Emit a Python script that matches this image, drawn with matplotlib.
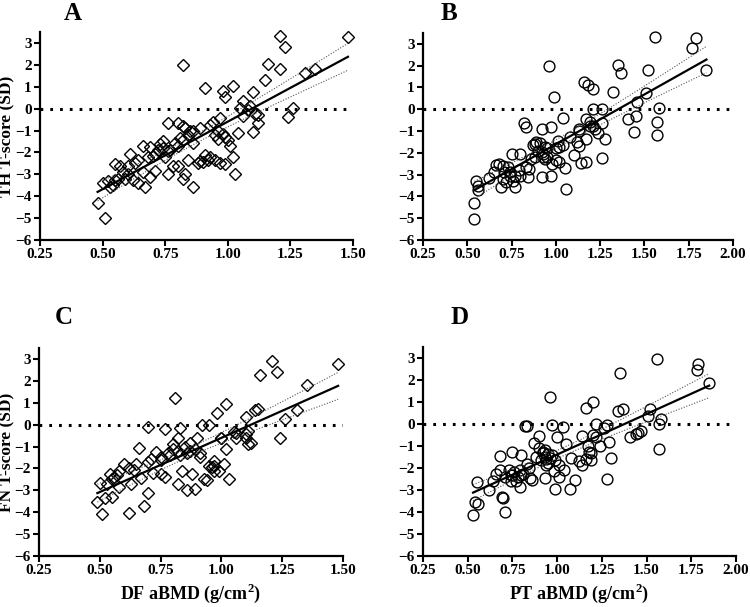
import numpy as np
import matplotlib
matplotlib.use("Agg")
import matplotlib.pyplot as plt

plt.rcParams['font.family'] = ['Liberation Serif', 'DejaVu Serif']
plt.rcParams['font.weight'] = 'bold'
plt.rcParams['mathtext.fontset'] = 'custom'
plt.rcParams['mathtext.rm'] = 'Liberation Serif:bold'
plt.rcParams['mathtext.bf'] = 'Liberation Serif:bold'

# panel A: DF aBMD vs TH T-score
a_x = [0.48, 0.51, 0.50, 0.52, 0.54, 0.55, 0.55, 0.57, 0.58, 0.59, 0.60, 0.61, 0.62, 0.64,
       0.64, 0.66, 0.66, 0.67, 0.69, 0.69, 0.71, 0.70, 0.71, 0.73, 0.74, 0.75, 0.76, 0.76,
       0.76, 0.78, 0.80, 0.80, 0.80, 0.82, 0.82, 0.82, 0.82, 0.83, 0.84, 0.83, 0.85, 0.86,
       0.86, 0.88, 0.89, 0.89, 0.91, 0.91, 0.92, 0.93, 0.94, 0.95, 0.95, 0.96, 0.97, 0.97,
       0.98, 0.99, 0.99, 0.99, 1.00, 1.01, 1.02, 1.02, 1.03, 1.04, 1.06, 1.06, 1.08, 1.10,
       1.10, 1.12, 1.12, 1.09, 1.15, 1.16, 1.21, 1.21, 1.23, 1.24, 1.26, 1.31, 1.35, 1.48,
       0.53, 0.56, 0.60, 0.63, 0.68, 0.72, 0.74, 0.77, 0.79, 0.81, 0.84, 0.86, 0.90, 0.93,
       0.96, 0.98, 1.05, 1.11]
a_y = [-4.3, -5.0, -3.4, -3.3, -3.5, -2.55, -3.25, -2.6, -2.9, -3.2, -2.6, -2.05, -3.25, -2.35,
       -3.4, -1.7, -2.9, -3.6, -1.75, -3.1, -2.85, -2.15, -2.05, -1.6, -1.8, -2.2, -1.95, -0.65,
       -3.0, -2.6, -1.7, -0.65, -2.6, 2.0, -0.8, -1.45, -3.2, -3.0, -2.35, -0.9, -1.0, -3.6,
       -1.55, -2.5, -0.9, -2.4, 0.95, -2.1, -2.35, -2.2, -0.6, -2.35, -1.2, -1.4, -0.45, -2.5,
       0.8, -2.55, 0.55, -1.3, -1.45, -1.7, -2.2, 1.05, -3.0, -1.1, 0.35, -0.35, -0.05, 0.75,
       -1.05, -0.65, -0.3, 0.1, 1.3, 2.05, 3.3, 1.8, 2.8, -0.4, 0.05, 1.65, 1.8, 3.25,
       -3.6, -3.2, -3.0, -2.5, -2.2, -1.9, -1.5, -1.9, -1.55, -1.35, -1.2, -1.0, -2.45, -0.75,
       -1.0, -1.15, 0.05, -0.25]

# panel B: PT aBMD vs TH T-score
b_x = [0.54, 0.54, 0.55, 0.56, 0.56, 0.62, 0.65, 0.66, 0.68, 0.69, 0.70, 0.71, 0.72, 0.73,
       0.74, 0.75, 0.76, 0.77, 0.79, 0.80, 0.80, 0.82, 0.83, 0.83, 0.84, 0.85, 0.87, 0.88,
       0.88, 0.89, 0.90, 0.92, 0.92, 0.93, 0.94, 0.95, 0.96, 0.97, 0.97, 0.98, 0.99, 1.00,
       1.01, 1.02, 1.04, 1.04, 1.05, 1.06, 1.08, 1.10, 1.12, 1.13, 1.13, 1.14, 1.16, 1.17,
       1.17, 1.17, 1.18, 1.19, 1.21, 1.21, 1.22, 1.24, 1.26, 1.26, 1.26, 1.28, 1.32, 1.35,
       1.37, 1.41, 1.44, 1.45, 1.46, 1.51, 1.52, 1.56, 1.57, 1.57, 1.58, 1.77, 1.79, 1.85,
       0.92, 0.93, 0.94, 0.95, 0.91, 0.70, 0.74, 0.77, 0.86, 1.02, 1.00, 1.13, 1.19, 1.21]
b_y = [-4.3, -5.05, -3.3, -3.5, -3.7, -3.15, -2.9, -2.55, -2.5, -3.55, -3.2, -2.9, -3.35, -2.65,
       -3.05, -2.05, -3.3, -3.55, -2.8, -2.05, -3.05, -0.65, -0.8, -2.65, -3.1, -2.75, -1.65, -2.2,
       -1.6, -1.5, -1.9, -0.9, -3.1, -2.05, -1.75, -2.2, 2.0, -0.8, -3.05, -2.5, 0.55, -2.35,
       -1.45, -1.75, -0.4, -1.65, -2.7, -3.65, -1.25, -2.1, -1.5, -0.9, -1.7, -2.45, 1.25, -2.4,
       -0.45, -1.35, 1.1, -0.75, 0.95, 0.0, -0.9, -1.1, 0.0, -2.25, -0.65, -1.35, 0.8, 2.05,
       1.65, -0.45, -1.05, -0.3, 0.35, 0.75, 1.8, 3.3, -0.6, -1.2, 0.05, 2.8, 3.25, 1.8,
       -1.95, -2.2, -2.3, -1.8, -1.55, -2.6, -2.9, -3.05, -2.3, -2.4, -1.8, -1.0, -0.6, -0.75]

# panel C: DF aBMD vs FN T-score
c_x = [0.49, 0.51, 0.50, 0.52, 0.54, 0.55, 0.56, 0.58, 0.58, 0.60, 0.62, 0.63, 0.65, 0.66,
       0.67, 0.68, 0.70, 0.70, 0.71, 0.72, 0.73, 0.75, 0.75, 0.77, 0.77, 0.79, 0.80, 0.81,
       0.82, 0.82, 0.83, 0.83, 0.84, 0.85, 0.86, 0.87, 0.88, 0.89, 0.90, 0.91, 0.92, 0.93,
       0.94, 0.95, 0.96, 0.97, 0.97, 0.98, 0.99, 1.00, 1.01, 1.02, 1.02, 1.03, 1.05, 1.06,
       1.10, 1.10, 1.11, 1.15, 1.16, 1.21, 1.23, 1.24, 1.26, 1.31, 1.35, 1.48,
       0.55, 0.57, 0.62, 0.70, 0.75, 0.78, 0.80, 0.82, 0.86, 0.87, 0.91, 0.95, 0.97, 1.00,
       1.06, 1.10, 1.11, 1.12, 1.14, 0.53, 0.64, 0.89]
c_y = [-3.55, -4.1, -2.65, -3.35, -2.25, -3.3, -2.4, -2.1, -2.85, -1.8, -4.05, -2.7, -1.8, -1.05,
       -2.45, -3.7, -3.1, -0.1, -1.55, -2.2, -1.25, -2.25, -1.5, -0.2, -2.4, -1.4, -1.1, 1.2,
       -0.6, -2.7, -0.15, -1.4, -2.1, -1.0, -3.0, -0.85, -2.25, -2.95, -0.6, -1.5, 0.0, -2.5,
       -2.55, 0.0, -1.95, -1.65, -2.1, 0.55, -2.1, -0.6, -1.8, -1.1, 0.95, -2.5, -0.35, -0.6,
       0.35, -0.6, -0.9, 0.7, 2.25, 2.9, 2.4, -0.6, 0.25, 0.65, 1.8, 2.75,
       -2.5, -2.3, -2.0, -1.7, -1.6, -1.3, -0.9, -1.2, -1.3, -1.2, -1.3, -1.9, -1.9, -0.6,
       -0.4, -0.45, -0.3, -0.85, 0.65, -2.7, -2.05, -1.1]

# panel D: PT aBMD vs FN T-score
d_x = [0.53, 0.54, 0.55, 0.56, 0.62, 0.64, 0.66, 0.68, 0.68, 0.69, 0.70, 0.71, 0.71, 0.73,
       0.74, 0.75, 0.75, 0.77, 0.79, 0.79, 0.80, 0.81, 0.82, 0.83, 0.83, 0.84, 0.85, 0.86,
       0.87, 0.88, 0.90, 0.90, 0.91, 0.92, 0.93, 0.93, 0.94, 0.95, 0.96, 0.96, 0.97, 0.98,
       0.99, 0.99, 1.00, 1.01, 1.01, 1.03, 1.04, 1.05, 1.07, 1.08, 1.10, 1.12, 1.14, 1.14,
       1.16, 1.17, 1.18, 1.19, 1.20, 1.20, 1.22, 1.24, 1.26, 1.28, 1.28, 1.29, 1.30, 1.34,
       1.35, 1.37, 1.41, 1.44, 1.45, 1.47, 1.51, 1.52, 1.56, 1.57, 1.57, 1.58, 1.78, 1.79,
       1.85, 0.92, 0.94, 0.95, 0.93, 0.97, 0.74, 0.78, 0.80, 0.76, 1.19, 1.16, 1.22]
d_y = [-4.13, -3.55, -2.65, -3.65, -3.0, -2.6, -2.25, -2.1, -1.45, -3.3, -3.35, -4.0, -2.4, -2.1,
       -2.6, -1.25, -2.3, -2.6, -2.1, -2.85, -1.4, -2.25, -0.1, -0.1, -1.8, -2.0, -2.45, -2.55,
       -0.85, -1.5, -1.1, -0.55, -1.65, -1.25, -2.45, -1.5, -1.85, -1.35, -1.55, 1.25, -0.05, -2.15,
       -1.65, -2.95, -0.6, -2.4, -1.85, -0.15, -2.1, -0.9, -2.95, -1.55, -2.55, -1.7, -0.55, -1.85,
       0.75, -1.0, -1.25, -1.65, 1.0, -0.5, 0.0, -1.0, -0.2, -0.05, -2.5, -0.8, -1.55, 0.6,
       2.3, 0.7, -0.6, -0.45, -0.4, -0.3, 0.35, 0.7, 2.95, 0.0, -1.15, 0.25, 2.45, 2.75,
       1.85, -1.3, -1.6, -1.75, -1.2, -1.4, -2.3, -2.4, -2.3, -2.2, -1.3, -1.6, -0.6]

panels = [
    ("A", a_x, a_y, "D", [40, 353, 32, 240], 1.50, "TH T-score (SD)", None),
    ("B", b_x, b_y, "o", [423, 733, 33, 240], 2.00, None, None),
    ("C", c_x, c_y, "D", [39, 343, 348, 556], 1.50, "FN T-score (SD)", r"DF aBMD (g/cm$^{2}$)"),
    ("D", d_x, d_y, "o", [423, 736, 347, 556], 2.00, None, r"PT aBMD (g/cm$^{2}$)"),
]
letter_pos = {"A": (73, 14), "B": (449, 14), "C": (64, 318), "D": (460, 318)}

W, H = 750, 607
fig = plt.figure(figsize=(W / 100, H / 100), dpi=100)

for letter, xs, ys, marker, (l, r, t, b), xmax, ylab, xlab in panels:
    ax = fig.add_axes([l / W, 1 - b / H, (r - l) / W, (b - t) / H])
    xs = np.array(xs)
    ys = np.array(ys)

    ax.axhline(0, color='black', lw=2.2, linestyle=(0, (0.9, 2.3)), zorder=1)

    if marker == "D":
        ax.plot(xs, ys, linestyle='none', marker='D', ms=6.4, mfc='none', mec='black',
                mew=1.0, clip_on=False, zorder=3)
    else:
        ax.plot(xs, ys, linestyle='none', marker='o', ms=7.8, mfc='none', mec='black',
                mew=1.0, clip_on=False, zorder=3)

    # linear fit with 95% confidence band
    slope, icpt = np.polyfit(xs, ys, 1)
    n = len(xs)
    resid = ys - (slope * xs + icpt)
    s = np.sqrt(np.sum(resid ** 2) / (n - 2))
    xx = np.linspace(xs.min(), xs.max(), 100)
    yy = slope * xx + icpt
    half = 1.98 * s * np.sqrt(1 / n + (xx - xs.mean()) ** 2 / np.sum((xs - xs.mean()) ** 2))
    ax.plot(xx, yy, color='black', lw=1.6, zorder=4)
    ax.plot(xx, yy + half, color='#555555', lw=0.8, linestyle=(0, (1, 1.5)), zorder=4)
    ax.plot(xx, yy - half, color='#555555', lw=0.8, linestyle=(0, (1, 1.5)), zorder=4)

    ax.set_xlim(0.25, xmax)
    ax.set_ylim(-6, 3.5)
    ax.set_xticks(np.arange(0.25, xmax + 0.01, 0.25))
    ax.set_xticklabels([f"{v:.2f}" for v in np.arange(0.25, xmax + 0.01, 0.25)])
    ax.set_yticks(range(-6, 4))
    for sp in ['top', 'right']:
        ax.spines[sp].set_visible(False)
    for sp in ['left', 'bottom']:
        ax.spines[sp].set_linewidth(1.6)
    ax.tick_params(direction='out', length=4, width=1.5, labelsize=11, pad=2)
    for lab in ax.get_xticklabels() + ax.get_yticklabels():
        lab.set_fontweight('bold')

    if ylab:
        fig.text(7 / W, 1 - (t + b) / 2 / H, ylab, rotation=90, fontsize=12.5,
                 fontweight='bold', ha='center', va='center')
    if xlab:
        ax.set_xlabel(xlab, fontsize=13, fontweight='bold', labelpad=3)

    lx, ly = letter_pos[letter]
    fig.text(lx / W, 1 - ly / H, letter, fontsize=18, fontweight='bold', ha='center', va='center')

fig.savefig("out.png", dpi=100)
